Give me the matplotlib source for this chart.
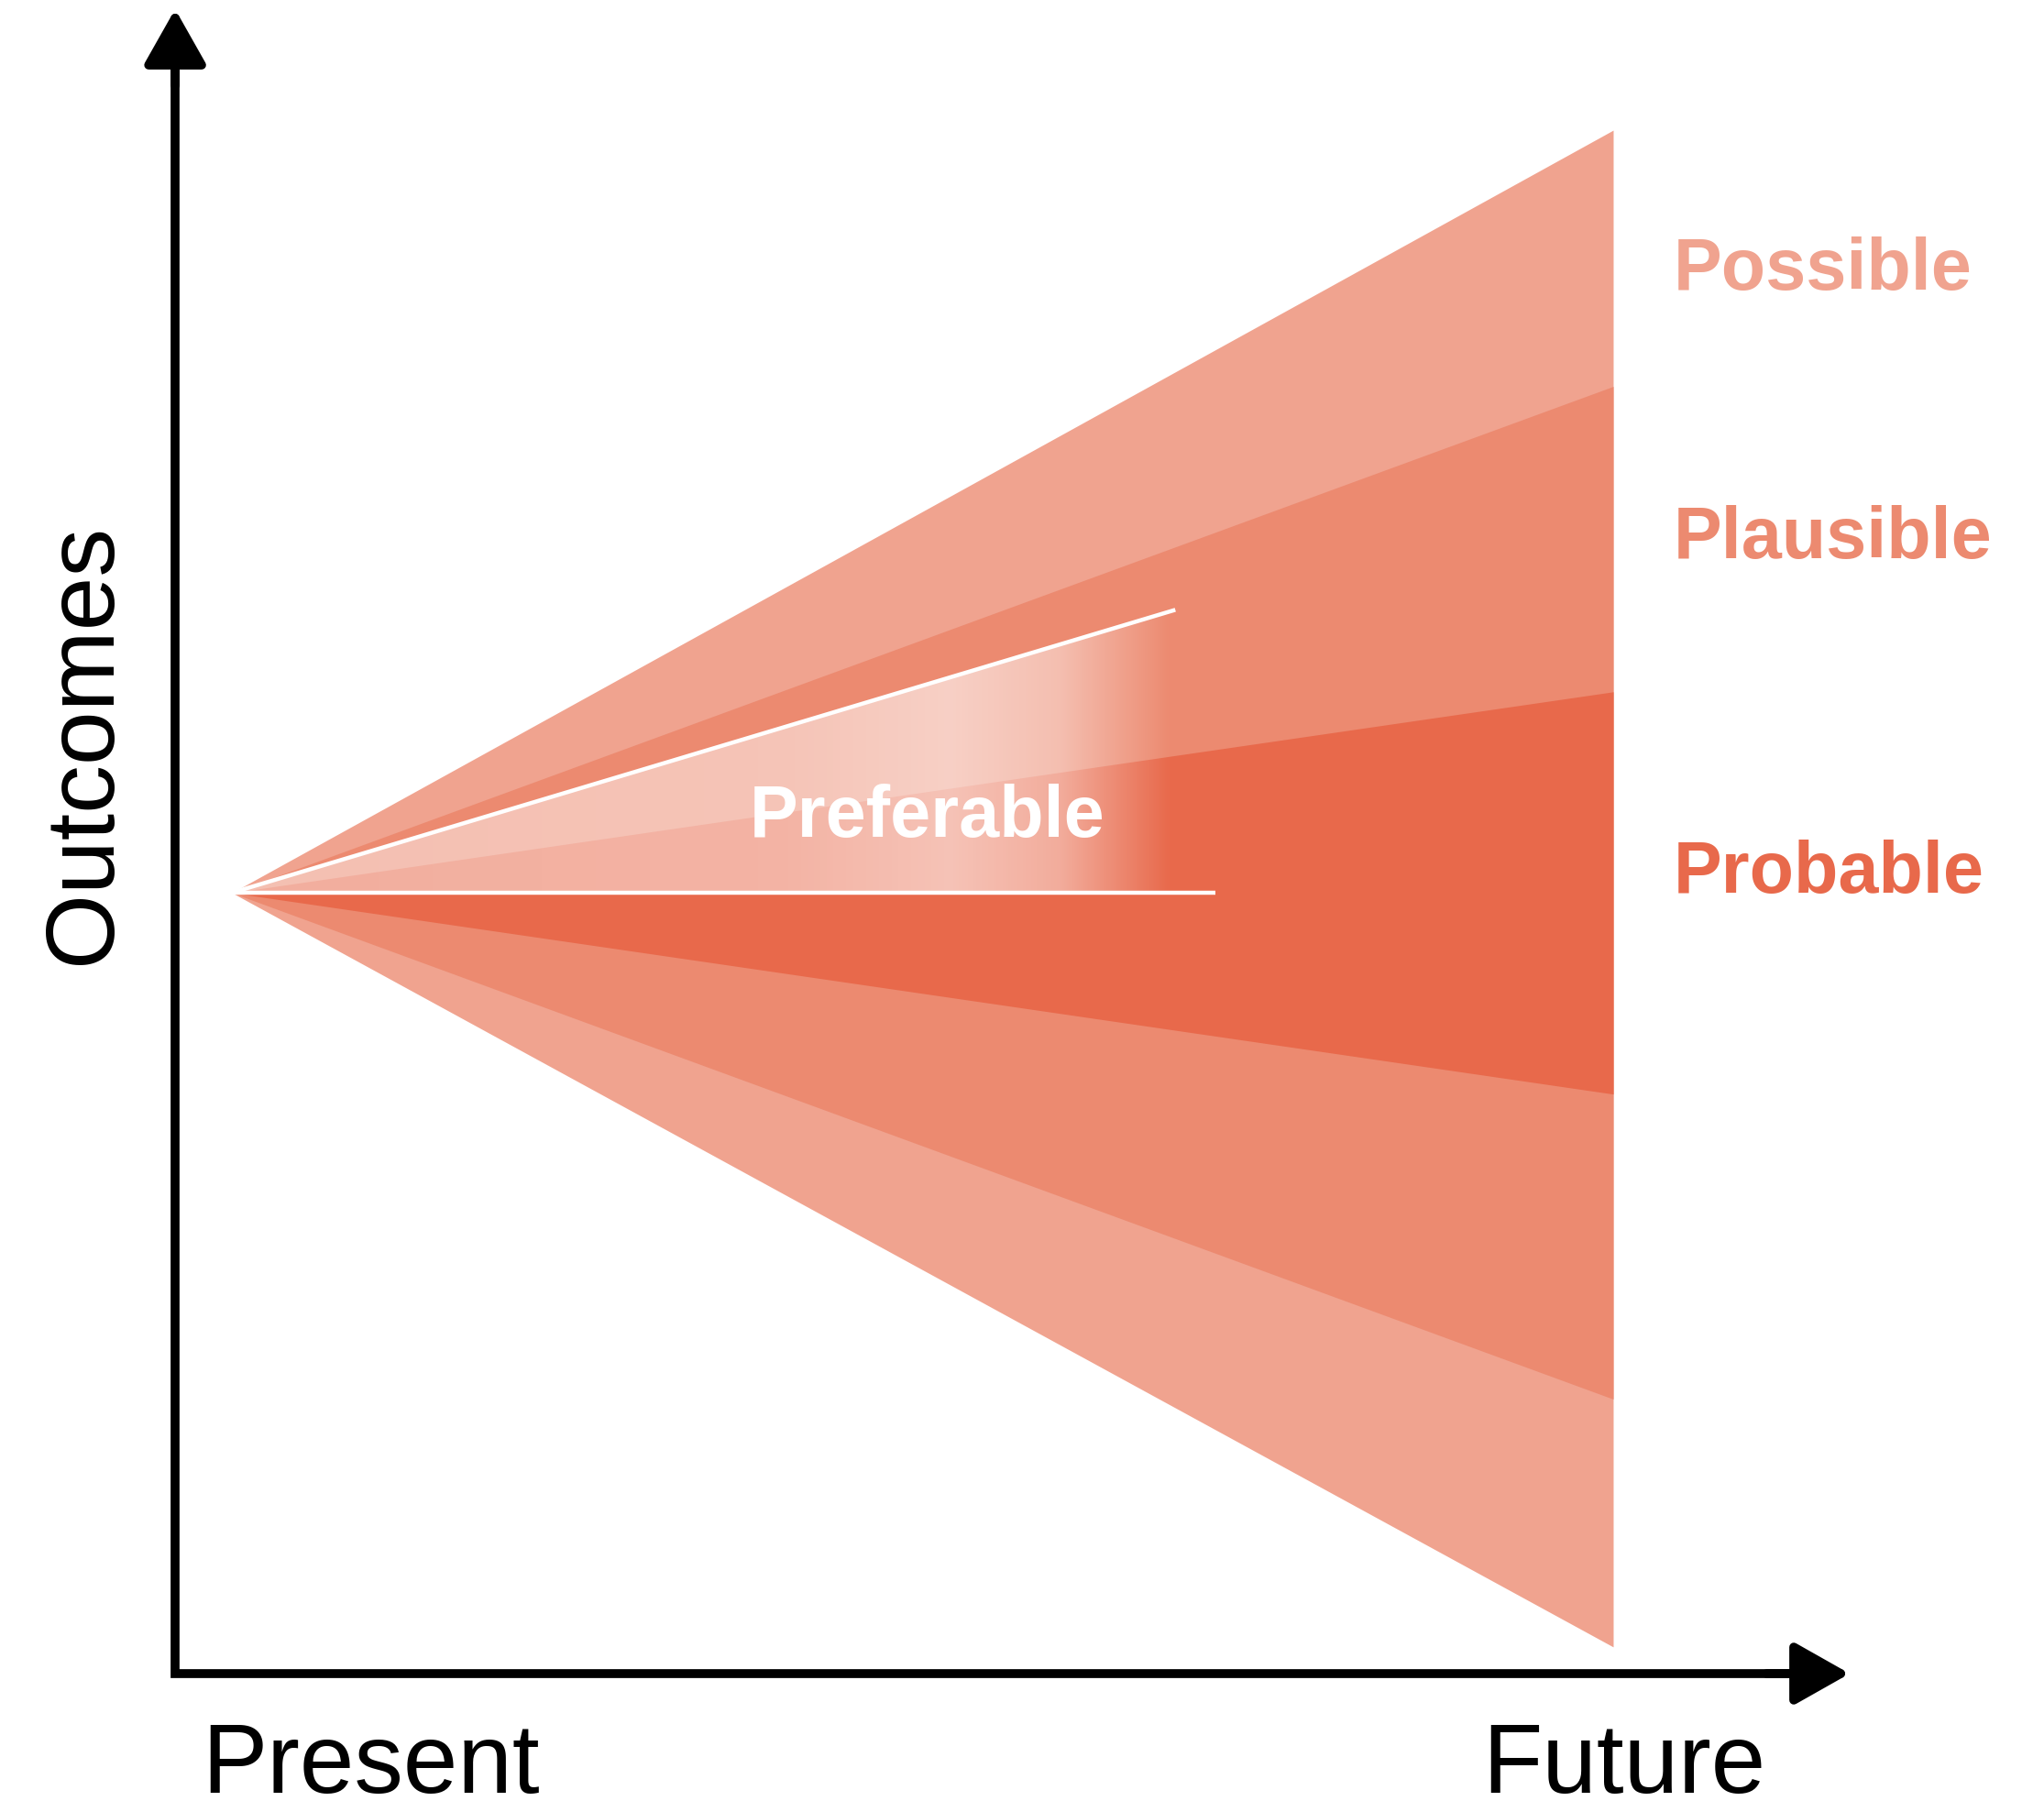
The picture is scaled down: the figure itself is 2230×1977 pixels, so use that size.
import numpy as np
import matplotlib.pyplot as plt
from matplotlib.patches import Polygon

plt.rcParams["font.family"] = ["Liberation Sans", "DejaVu Sans"]

# time runs from the present (0) to the future (1)
time = [0.0, 1.0]

# cone bands, outcome spread reached at the future edge
bands = ["Possible", "Plausible", "Probable"]
band_upper = [1.0, 0.664, 0.2635]
band_lower = [-0.989, -0.664, -0.264]
band_colors = ["#f0a38f", "#ec8a70", "#e8694b"]
label_y = [0.815, 0.463, 0.025]

# preferable wedge: end points of the two white lines
pref_upper_end = (0.683, 0.371)
pref_lower_end = (0.712, 0.0)

fig = plt.figure(figsize=(22.3, 19.77), dpi=100)
ax = fig.add_axes([0, 0, 1, 1])

for name, hi, lo, col in zip(bands, band_upper, band_lower, band_colors):
    ax.fill_between(time, [0, lo], [0, hi], color=col, lw=0, zorder=1)

# translucent white overlay for the preferable futures, fading out to the right
slope = pref_upper_end[1] / pref_upper_end[0]
gx = np.linspace(0, 0.72, 500)
alpha = np.interp(gx, [0, 0.40, 0.52, 0.60, 0.68], [0.46, 0.50, 0.60, 0.45, 0.0])
img = np.ones((2, gx.size, 4))
img[..., 3] = alpha
im = ax.imshow(img, extent=(0, 0.72, 0, 0.42), aspect="auto",
               interpolation="bilinear", zorder=2)
wedge = Polygon([(0, 0), (0.72, 0.72 * slope), (0.72, 0)], closed=True,
                transform=ax.transData, fc="none", ec="none")
ax.add_patch(wedge)
im.set_clip_path(wedge)

ax.plot([0, pref_upper_end[0]], [0, pref_upper_end[1]], color="white", lw=3.2, zorder=3,
        solid_capstyle="butt")
ax.plot([0, pref_lower_end[0]], [0, pref_lower_end[1]], color="white", lw=3.2, zorder=3,
        solid_capstyle="butt")

ax.text(0.5037, 0.0974, "Preferable", color="white", fontsize=57, fontweight="bold",
        ha="center", va="center", zorder=4)

for name, y, col in zip(bands, label_y, band_colors):
    ax.text(1.0438, y, name, color=col, fontsize=57, fontweight="bold",
            ha="left", va="center")

# axes: one L-shaped line plus two arrow heads
x0, y0 = -0.0411, -1.024
y_tip, x_tip = 1.1587, 1.1712
ax.plot([x0, x0, x_tip - 0.03], [y_tip - 0.055, y0, y0], color="black", lw=7,
        solid_joinstyle="miter", solid_capstyle="butt")
arrow = dict(arrowstyle="-|>,head_length=0.92,head_width=0.52", lw=7, color="black",
             mutation_scale=40, shrinkA=0, shrinkB=0)
ax.annotate("", xy=(x0, y_tip), xytext=(x0, y_tip - 0.1), arrowprops=arrow)
ax.annotate("", xy=(x_tip, y0), xytext=(x_tip - 0.06, y0), arrowprops=arrow)

ax.text(-0.1062, 0.196, "Outcomes", fontsize=76, rotation=90, ha="center", va="center")
ax.text(-0.0215, -1.180, "Present", fontsize=77, ha="left", va="baseline")
ax.text(0.905, -1.180, "Future", fontsize=77, ha="left", va="baseline")

ax.set_xlim(-0.1679, 1.3119)
ax.set_ylim(-1.2055, 1.1707)
ax.axis("off")

fig.savefig("out.png", dpi=100)
